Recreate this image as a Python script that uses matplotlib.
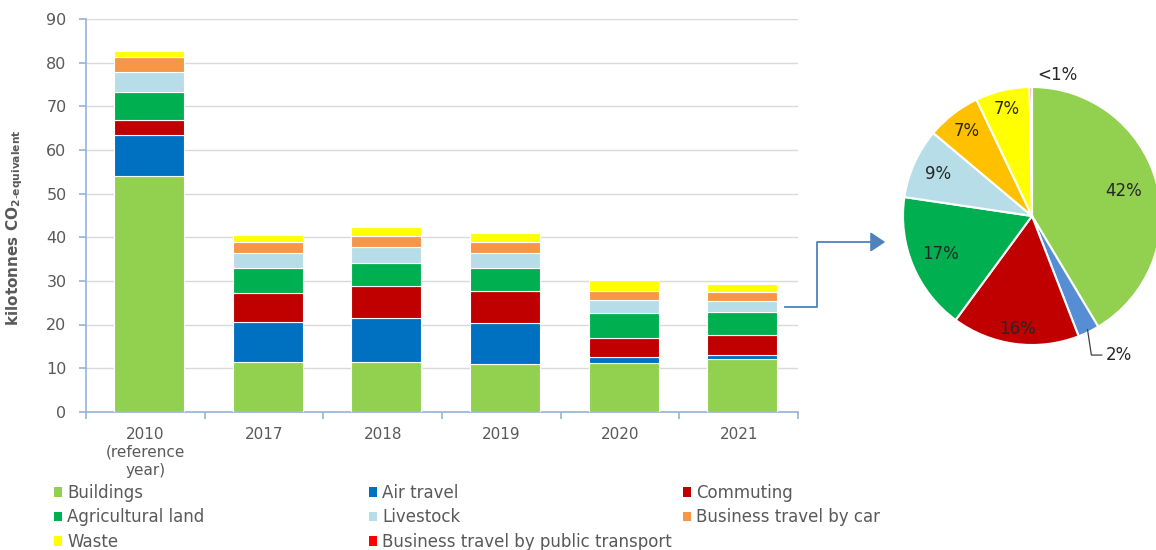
import matplotlib
matplotlib.use("Agg")
import matplotlib.pyplot as plt
import numpy as np
from matplotlib.patches import Patch
from matplotlib.lines import Line2D

# ---------------- data ----------------
categories = ["2010\n(reference\nyear)", "2017", "2018", "2019", "2020", "2021"]
series_names = ["Buildings", "Air travel", "Commuting", "Agricultural land",
                "Livestock", "Business travel by car", "Waste",
                "Business travel by public transport"]
buildings = [54.0, 11.5, 11.5, 10.9, 11.2, 12.2]
air_travel = [9.4, 9.1, 9.9, 9.4, 1.4, 0.8]
commuting = [3.5, 6.6, 7.4, 7.4, 4.2, 4.7]
agricultural = [6.5, 5.7, 5.2, 5.2, 5.8, 5.1]
livestock = [4.6, 3.4, 3.7, 3.4, 3.0, 2.6]
car = [3.4, 2.6, 2.6, 2.6, 2.1, 2.0]
waste = [1.3, 1.6, 2.1, 2.2, 2.5, 2.0]
public_transport = [0.0, 0.0, 0.0, 0.0, 0.0, 0.1]
series_values = [buildings, air_travel, commuting, agricultural, livestock,
                 car, waste, public_transport]
bar_colors = ["#92D050", "#0070C0", "#C00000", "#00B050", "#B7DEE8",
              "#F79646", "#FFFF00", "#FF0000"]

pie_values = [41.5, 2.7, 16.0, 17.3, 8.8, 6.8, 6.8, 0.3]
pie_labels = ["42%", "2%", "16%", "17%", "9%", "7%", "7%", "<1%"]
pie_colors = ["#92D050", "#558ED5", "#C00000", "#00B050", "#B7DEE8",
              "#FFC000", "#FFFF00", "#FF0000"]
pie_label_dist = [0.74, None, 0.88, 0.77, 0.80, 0.83, 0.85, None]

W, H = 1156, 550
fig = plt.figure(figsize=(W / 100, H / 100), dpi=100)
plt.rcParams['font.family'] = ['DejaVu Sans']

text_col = "#595959"
spine_col = "#95B3D7"

# ---------------- bar chart ----------------
ax = fig.add_axes([86 / W, 1 - 411.7 / H, (798 - 86) / W, (411.7 - 19.3) / H])
x = np.arange(len(categories))
bottom = np.zeros(len(categories))
for name, vals, col in zip(series_names, series_values, bar_colors):
    ax.bar(x + 0.03, vals, 0.59, bottom=bottom, color=col, edgecolor="white",
           linewidth=0.8, label=name, zorder=3)
    bottom += np.array(vals)

ax.set_xlim(-0.5, len(categories) - 0.5)
ax.set_ylim(0, 90)
ax.set_yticks(np.arange(0, 91, 10))
ax.yaxis.grid(True, color="#D9D9D9", linewidth=1.0, zorder=0)
ax.set_axisbelow(True)
for s in ["top", "right"]:
    ax.spines[s].set_visible(False)
for s in ["left", "bottom"]:
    ax.spines[s].set_color(spine_col)
    ax.spines[s].set_linewidth(1.2)
ax.set_xticks(x)
ax.set_xticklabels(categories, color=text_col, fontsize=11, linespacing=1.25)
ax.set_xticks(np.arange(-0.5, len(categories), 1.0), minor=True)
ax.tick_params(axis="x", which="major", length=0, pad=11)
ax.tick_params(axis="x", which="minor", length=5, color=spine_col, width=1.2)
ax.tick_params(axis="y", length=5, color=spine_col, width=1.2,
               labelcolor=text_col, labelsize=11.5, pad=9)
ax.set_ylabel(r"kilotonnes CO$_{\mathbf{2\text{-}equivalent}}$",
              fontsize=11, fontweight="bold", color=text_col)
ax.yaxis.set_label_coords(-0.086, 0.47)

# ---------------- legend (three columns) ----------------
handles = [Patch(facecolor=c, edgecolor="none") for c in bar_colors]
columns = [[0, 3, 6], [1, 4, 7], [2, 5]]
col_x = [54, 369, 683]
for cx, idxs in zip(col_x, columns):
    leg = fig.legend([handles[i] for i in idxs], [series_names[i] for i in idxs],
                     loc="upper left", bbox_to_anchor=(cx / W, 1 - 484 / H),
                     frameon=False, fontsize=12, handlelength=0.5,
                     handleheight=0.5, handletextpad=0.3, labelspacing=0.38,
                     borderaxespad=0, borderpad=0)
    for t in leg.get_texts():
        t.set_color(text_col)

# ---------------- pie chart ----------------
cx_px, cy_px, r_px = 1032, 216, 129
pax = fig.add_axes([(cx_px - r_px) / W, 1 - (cy_px + r_px) / H,
                    2 * r_px / W, 2 * r_px / H])
wedges, _ = pax.pie(pie_values, colors=pie_colors, startangle=90,
                    counterclock=False,
                    wedgeprops=dict(edgecolor="white", linewidth=1.5))
pax.set_xlim(-1, 1)
pax.set_ylim(-1, 1)
pax.set_aspect("equal")
pax.axis("off")

for w, lab, d in zip(wedges, pie_labels, pie_label_dist):
    ang = np.deg2rad((w.theta1 + w.theta2) / 2)
    if d is not None:
        pax.text(d * np.cos(ang), d * np.sin(ang), lab, ha="center",
                 va="center", fontsize=12, color="#262626")

# 2% label with leader line
w_air = wedges[1]
ang = np.deg2rad((w_air.theta1 + w_air.theta2) / 2)
x0, y0 = np.cos(ang) * 0.98, np.sin(ang) * 0.98
pax.plot([x0, x0 + 0.03, x0 + 0.11], [y0, -1.078, -1.078], color="#404040",
         linewidth=0.9, clip_on=False)
pax.text(x0 + 0.14, -1.078, pie_labels[1], ha="left", va="center",
         fontsize=12, color="#262626")

# <1% label
w_pt = wedges[7]
ang = np.deg2rad((w_pt.theta1 + w_pt.theta2) / 2)
pax.text(np.cos(ang) * 1.05 + 0.05, np.sin(ang) * 1.05 + 0.04, pie_labels[7],
         ha="left", va="center", fontsize=12, color="#262626")

# ---------------- connector arrow ----------------
pts = [(785, 307), (817, 307), (817, 242), (874, 242)]
fx = [p[0] / W for p in pts]
fy = [1 - p[1] / H for p in pts]
fig.add_artist(Line2D(fx, fy, color="#4F81BD", linewidth=1.3,
                      transform=fig.transFigure))
fig.add_artist(matplotlib.patches.FancyArrowPatch(
    (872 / W, 1 - 242 / H), (888 / W, 1 - 242 / H),
    transform=fig.transFigure, arrowstyle="-|>,head_length=4.5,head_width=3",
    color="#4F81BD", linewidth=1.3, mutation_scale=2))

fig.savefig("out.png", dpi=100)
